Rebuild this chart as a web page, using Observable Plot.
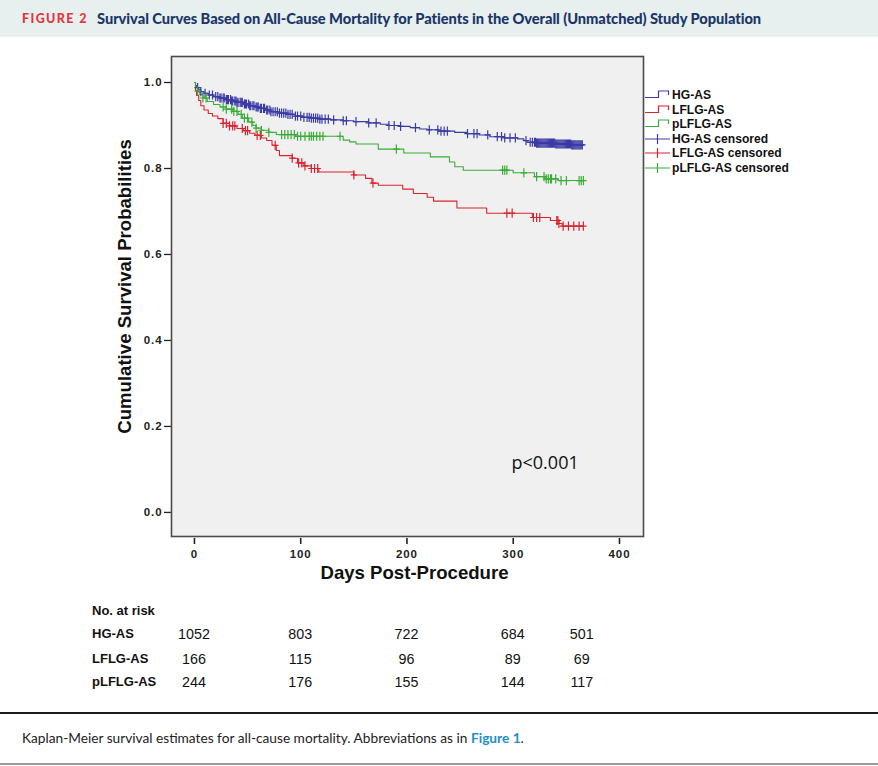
<!DOCTYPE html>
<html><head><meta charset="utf-8">
<script src="https://cdn.jsdelivr.net/npm/d3@7"></script>
<script src="https://cdn.jsdelivr.net/npm/@observablehq/plot@0.6"></script>
<style>
body{margin:0;background:#fff;width:878px;height:766px;position:relative;overflow:hidden;font-family:"Liberation Sans",Arial,sans-serif;color:#111;}
#hdr{position:absolute;left:0;top:0;width:878px;height:37px;background:#e7efef;}
#hdr span{position:absolute;top:10px;line-height:17px;font-family:Lato,sans-serif;font-weight:900;white-space:nowrap;}
#fig{left:22px;color:#e5353d;font-size:12.5px;letter-spacing:1.4px;}
#ttl{left:97px;color:#1b3667;font-size:14.65px;letter-spacing:-0.05px;}
#chart{position:absolute;left:0;top:37px;}
#chart g[aria-label$="tick label"] text{letter-spacing:0.9px;}
.abs{position:absolute;white-space:nowrap;line-height:16px;}
.leg{position:absolute;left:645px;height:14px;font-weight:bold;font-size:12.1px;line-height:14px;white-space:nowrap;}
.leg svg{vertical-align:top;margin-right:1px;}
.rl{font-weight:bold;font-size:13px;}
.rn{font-size:14.3px;transform:translateX(-50%);}
#line1{position:absolute;left:0;top:712px;width:878px;height:2px;background:#1a1a1a;}
#cap{position:absolute;left:22px;top:729px;font-family:Lato,sans-serif;font-size:13.7px;color:#222;white-space:nowrap;}
#cap b{color:#1e8fc8;font-weight:bold;}
#line2{position:absolute;left:0;top:763px;width:878px;height:2px;background:#9a9a9a;}
</style></head><body>
<div id="hdr"><span id="fig">FIGURE 2</span><span id="ttl">Survival Curves Based on All-Cause Mortality for Patients in the Overall (Unmatched) Study Population</span></div>
<div id="chart"></div>
<div id="legend"></div>
<div id="risk"></div>
<div id="line1"></div>
<div id="cap">Kaplan-Meier survival estimates for all-cause mortality. Abbreviations as in <b>Figure 1</b>.</div>
<div id="line2"></div>
<script>
// ---- data ----
const groups = ["HG-AS", "LFLG-AS", "pLFLG-AS"];
const colors = ["#3b3ba6", "#d9232f", "#3aac38"];

const hgDays = [0,1,2,4,6,9,13,18,24,30,35,40,46,52,57,62,67,72,80,88,95,102,110,118,128,140,150,164,175,183,193,203,212,219,230,245,257,268,278,292,304,310,313,322,340,355];
const hgSurv = [1,0.993,0.988,0.983,0.979,0.975,0.971,0.967,0.964,0.960,0.957,0.954,0.950,0.946,0.943,0.940,0.936,0.932,0.929,0.926,0.922,0.919,0.917,0.915,0.913,0.911,0.909,0.906,0.903,0.900,0.898,0.895,0.892,0.890,0.887,0.884,0.881,0.878,0.874,0.871,0.869,0.865,0.861,0.859,0.857,0.855];

const lfDays = [0,1,2,4,6,9,13,17,22,27,33,40,46,52,57,63,68,73,77,80,92,97,103,110,117,150,161,167,173,196,206,219,225,247,275,318,335,343,346];
const lfSurv = [1,0.982,0.970,0.958,0.946,0.936,0.928,0.922,0.916,0.905,0.899,0.893,0.888,0.882,0.877,0.871,0.865,0.854,0.842,0.830,0.824,0.813,0.806,0.800,0.792,0.785,0.777,0.766,0.761,0.752,0.742,0.733,0.724,0.708,0.696,0.686,0.679,0.672,0.666];

const plDays = [0,1,3,5,8,12,18,24,30,36,41,45,51,55,58,63,70,77,95,140,146,152,173,197,222,240,245,253,300,320,330,342];
const plSurv = [1,0.989,0.980,0.972,0.964,0.956,0.949,0.943,0.938,0.933,0.926,0.917,0.908,0.900,0.894,0.889,0.884,0.879,0.875,0.866,0.862,0.857,0.845,0.836,0.827,0.815,0.804,0.796,0.790,0.781,0.776,0.772];

const hgCensor = [3,6,10,14,17,20,22,24,25,27,28,30,31,32,34,35,36,38,39,40,41,43,44,45,47,48,49,51,52,53,55,56,58,59,60,62,63,65,66,68,69,71,72,74,76,78,80,82,84,86,88,90,92,95,97,100,103,106,108,110,112,114,116,118,120,123,126,131,140,143,152,164,171,183,188,194,208,221,229,232,235,238,257,263,266,276,285,289,292,297,302,312,316,318,320,321,322,323,324,325,326,327,328,329,330,331,332,333,334,335,336,337,338,339,340,341,342,343,344,345,346,347,348,349,350,351,352,353,354,355,356,357,358,359,360,361,362,363,364,365];
const lfCensor = [27,30,33,36,38,45,48,50,59,62,76,92,98,101,104,110,113,116,150,168,294,299,319,322,325,341,342,343,347,352,357,362,366];
const plCensor = [3,8,11,27,30,35,37,40,44,47,50,54,58,63,70,82,85,88,91,94,97,100,104,108,110,112,115,118,121,137,190,290,292,294,310,322,329,331,333,335,336,340,345,350,362,364,366];

const riskDays = [0, 100, 200, 300, 365];
const riskHG = [1052, 803, 722, 684, 501];
const riskLF = [166, 115, 96, 89, 69];
const riskPL = [244, 176, 155, 144, 117];

const xTicks = [0, 100, 200, 300, 400];
const yTicks = [0, 0.2, 0.4, 0.6, 0.8, 1.0];
const xLabel = "Days Post-Procedure";
const yLabel = "Cumulative Survival Probabilities";
const pText = "p<0.001";
const legendLabels = ["HG-AS", "LFLG-AS", "pLFLG-AS", "HG-AS censored", "LFLG-AS censored", "pLFLG-AS censored"];

// ---- build tables ----
const series = [
  {group: groups[0], days: hgDays, surv: hgSurv, censor: hgCensor},
  {group: groups[1], days: lfDays, surv: lfSurv, censor: lfCensor},
  {group: groups[2], days: plDays, surv: plSurv, censor: plCensor}
];
const curves = [], censors = [];
for (const s of series) {
  s.days.forEach((d, i) => curves.push({group: s.group, day: d, surv: s.surv[i]}));
  curves.push({group: s.group, day: d3.max(s.censor), surv: s.surv[s.surv.length - 1]});
  for (const t of s.censor) {
    const i = d3.bisectRight(s.days, t) - 1;
    censors.push({group: s.group, day: t, surv: s.surv[i]});
  }
}

const censorSymbol = {
  draw(ctx, size) {
    const r = Math.sqrt(size / Math.PI);
    ctx.moveTo(0, -r); ctx.lineTo(0, r);
    ctx.moveTo(-r * 0.7, 0); ctx.lineTo(r * 0.7, 0);
  }
};

const chart = Plot.plot({
  width: 878, height: 563,
  marginLeft: 171, marginRight: 235, marginTop: 19, marginBottom: 64,
  style: {fontFamily: "'Liberation Sans', Arial, sans-serif", background: "transparent", color: "#222", overflow: "visible"},
  x: {domain: [-21.6, 422.6]},
  y: {domain: [-0.056, 1.0605]},
  color: {domain: groups, range: colors},
  marks: [
    Plot.frame({fill: "#f0f0f0"}),
    Plot.axisY({ticks: yTicks, tickFormat: ".1f", tickSize: 7, tickPadding: 2, fontSize: 11.5, fontWeight: "bold", label: null, strokeWidth: 1.3}),
    Plot.axisX({ticks: xTicks, tickSize: 6, tickPadding: 5, fontSize: 11.5, fontWeight: "bold", label: null, dy: 2, strokeWidth: 1.6}),
    Plot.line(curves, {x: "day", y: "surv", z: "group", stroke: "group", curve: "step-after", strokeWidth: 1.1}),
    Plot.dot(censors, {x: "day", y: "surv", stroke: "group", fill: "none", symbol: censorSymbol, r: 4.6, strokeWidth: 1.2}),
    Plot.text([pText], {x: 330, y: 0.114, text: d => d, fontSize: 18, fontFamily: "'Open Sans', sans-serif", fill: "#111"}),
    Plot.text([xLabel], {frameAnchor: "bottom", dx: 7, dy: 42, text: d => d, fontSize: 18.6, fontWeight: "bold", fill: "#111"}),
    Plot.text([yLabel], {frameAnchor: "left", textAnchor: "middle", dx: -46, dy: -10, rotate: -90, text: d => d, fontSize: 18.6, fontWeight: "bold", fill: "#111"}),
    Plot.frame({stroke: "#4a4a4a", strokeWidth: 1.6})
  ]
});
document.getElementById("chart").appendChild(chart);

// ---- legend ----
const legend = document.getElementById("legend");
legendLabels.forEach((lab, i) => {
  const c = colors[i % 3];
  const cy = 95 + i * 14.6;
  const div = document.createElement("div");
  div.className = "leg";
  div.style.top = (cy - 7) + "px";
  const sw = i < 3
    ? `<path d="M0,9.5 H13.5 V3 H23.5 V7" fill="none" stroke="${c}" stroke-width="1.2"/>`
    : `<path d="M0,7 H25 M12.5,2 V12" fill="none" stroke="${c}" stroke-width="1.2"/>`;
  div.innerHTML = `<svg width="26" height="14">${sw}</svg>${lab}`;
  legend.appendChild(div);
});

// ---- risk table ----
const xs = chart.scale("x");
const risk = document.getElementById("risk");
function addText(txt, cls, left, cy) {
  const d = document.createElement("div");
  d.className = "abs " + cls;
  d.style.left = left + "px";
  d.style.top = (cy - 8) + "px";
  d.textContent = txt;
  risk.appendChild(d);
}
addText("No. at risk", "rl", 92, 611);
const rows = [[groups[0], riskHG, 634], [groups[1], riskLF, 659], [groups[2], riskPL, 682]];
for (const [g, vals, cy] of rows) {
  addText(g, "rl", 92, cy);
  vals.forEach((v, i) => addText(String(v), "rn", xs.apply(riskDays[i]), cy));
}
</script>
</body></html>
